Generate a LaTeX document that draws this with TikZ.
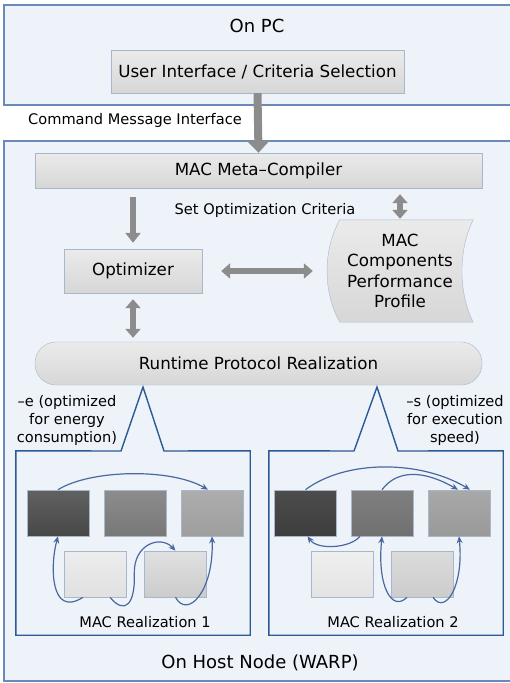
\documentclass[tikz,border=0pt]{standalone}
\usepackage{fontspec}
\setmainfont{DejaVu Sans}
\usetikzlibrary{arrows.meta,positioning,calc}
\definecolor{fondo}{HTML}{EEF3F9}
\definecolor{marco}{HTML}{6A8BB8}
\definecolor{azul}{HTML}{2D5A96}
\definecolor{flecha}{HTML}{4A68A0}
\definecolor{gris}{HTML}{8C8C8C}
\definecolor{grisf}{HTML}{E2E2E2}
\definecolor{borde}{HTML}{A8B8CC}

\tikzset{
  zona/.style={draw=marco,fill=fondo,line width=1.2pt,inner sep=0pt},
  caja/.style={draw=borde,top color=grisf!70!white,bottom color=grisf!95!black,
               font=\fontsize{16.7}{20}\selectfont,inner sep=0pt},
  bloque/.style={draw=borde,line width=0.6pt,inner sep=0pt,minimum width=62pt,minimum height=46pt},
  gflecha/.style={draw=gris,line width=6pt,-{Triangle[width=15pt,length=10pt]}},
  gdoble/.style={draw=gris,line width=6pt,{Triangle[width=15pt,length=9pt]}-{Triangle[width=15pt,length=9pt]}},
  bflecha/.style={draw=flecha,line width=1.2pt,-{Stealth[length=7pt,width=6pt]}},
  chica/.style={font=\fontsize{14.6}{18}\selectfont},
  titulo/.style={font=\fontsize{18}{22}\selectfont}
}

\begin{document}
\begin{tikzpicture}[x=1pt,y=-1pt]
  \useasboundingbox[fill=white] (0,0) rectangle (509,683);

  % the two hosts
  \node[zona,minimum width=508pt,minimum height=100pt] (pc) at (258,55) {};
  \node[zona,minimum width=508pt,minimum height=540pt] (host) at (258,411) {};
  \node[titulo] (pctxt) at (257,26) {On PC};
  \node[titulo] (hosttxt) at (260,663) {On Host Node (WARP)};

  % PC side
  \node[caja,minimum width=293pt,minimum height=43pt] (ui) at (257.5,71.5) {User Interface / Criteria Selection};
  \node[chica] (cmd) at (135,120) {Command Message Interface};

  % meta-compiler and friends
  \node[caja,minimum width=447pt,minimum height=35pt] (meta) at (258.5,170.5) {MAC Meta--Compiler};
  \node[chica] (crit) at (265,210) {Set Optimization Criteria};
  \node[caja,minimum width=138pt,minimum height=44pt] (opt) at (133,271) {Optimizer};
  \node[minimum width=146pt,minimum height=102pt,inner sep=0pt] (prof) at (400,271) {};
  \draw[draw=borde,top color=grisf!70!white,bottom color=grisf!95!black]
    ([xshift=13pt]prof.north west) -- (prof.north east)
    .. controls ([xshift=-15pt,yshift=-30pt]prof.north east) and ([xshift=-15pt,yshift=30pt]prof.south east) .. (prof.south east)
    -- ([xshift=13pt]prof.south west)
    .. controls ([xshift=-4pt,yshift=30pt]prof.south west) and ([xshift=-4pt,yshift=-30pt]prof.north west) .. ([xshift=13pt]prof.north west) -- cycle;
  \node[align=center,font=\fontsize{16.7}{20.5}\selectfont] (proftxt) at (prof) {MAC\\Components\\Performance\\Profile};
  \node[caja,minimum width=447pt,minimum height=43pt,rounded corners=21pt] (run) at (258.5,363.5) {Runtime Protocol Realization};

  % gray arrows
  \draw[gflecha,line width=8pt,-{Triangle[width=22pt,length=12pt]}] (ui.south) -- (meta.north);
  \draw[gflecha] ([yshift=-9pt]meta.south -| opt) -- ([yshift=6pt]opt.north);
  \draw[gdoble] ([yshift=-6pt]meta.south -| prof) -- ([yshift=1pt]prof.north);
  \draw[gdoble] ([xshift=19pt]opt.east) -- ([xshift=-14pt]prof.west);
  \draw[gdoble] ([yshift=-6pt]opt.south) -- ([yshift=4pt]run.north -| opt);

  % callouts
  \coordinate (tip1) at (143,387);
  \coordinate (tip2) at (377,387);
  \node[minimum width=234pt,minimum height=184pt] (real1) at (133,543) {};
  \node[minimum width=234pt,minimum height=184pt] (real2) at (386,543) {};
  \draw[azul,fill=fondo,line width=1.4pt] (real1.north west) -- (121,451) -- (tip1) -- (164,451)
    -- (real1.north east) -- (real1.south east) -- (real1.south west) -- cycle;
  \draw[azul,fill=fondo,line width=1.4pt] (real2.north west) -- (354,451) -- (tip2) -- (398,451)
    -- (real2.north east) -- (real2.south east) -- (real2.south west) -- cycle;
  \node[chica,align=center] (etxt) at (67,420) {--e (optimized\\for energy\\consumption)};
  \node[chica,align=center] (stxt) at (455,420) {--s (optimized\\for execution\\speed)};

  % realization 1
  \node[bloque,top color=black!62,bottom color=black!72] (l1) at (58,513) {};
  \node[bloque,top color=black!45,bottom color=black!53] (l2) at (135.5,513) {};
  \node[bloque,top color=black!32,bottom color=black!38] (l3) at (212,513) {};
  \node[bloque,top color=black!7,bottom color=black!12] (l4) at (95,574) {};
  \node[bloque,top color=black!12,bottom color=black!20] (l5) at (175.5,574) {};
  \node[chica] (r1txt) at (145,622) {MAC Realization 1};
  \draw[bflecha] (l1.north) .. controls +(32,-20) and +(-38,-22) .. ([xshift=-4pt]l3.north);
  \draw[bflecha] ([xshift=-12pt]l4.south) .. controls +(-33,21) and +(-8,29) .. (l1.south);
  \draw[bflecha] ([xshift=15pt]l4.south) .. controls +(15,18) and +(1,30) .. ([xshift=8pt]l4.east)
    .. controls +(-1,-30) and +(-15,-16) .. (l5.north);
  \draw[bflecha] (l5.south) .. controls +(12,22) and +(2,55) .. (l3.south);

  % realization 2
  \node[bloque,top color=black!70,bottom color=black!76] (r1) at (305.5,513) {};
  \node[bloque,top color=black!50,bottom color=black!56] (r2) at (382,513) {};
  \node[bloque,top color=black!34,bottom color=black!40] (r3) at (459,513) {};
  \node[bloque,top color=black!6,bottom color=black!11] (r4) at (342,574) {};
  \node[bloque,top color=black!14,bottom color=black!20] (r5) at (422,574) {};
  \node[chica] (r2txt) at (393,622) {MAC Realization 2};
  \draw[bflecha] (r1.north) .. controls +(40,-30) and +(-50,-30) .. ([xshift=11pt]r3.north);
  \draw[bflecha] (r2.north) .. controls +(15,-20) and +(-35,-20) .. ([xshift=-1pt]r3.north);
  \draw[bflecha] ([xshift=-22pt]r2.south) .. controls +(-10,12) and +(10,14) .. ([xshift=2pt]r1.south);
  \draw[bflecha] ([xshift=-15pt]r5.south) .. controls +(-15,15) and +(-5,50) .. (r2.south);
  \draw[bflecha] ([xshift=11pt]r5.south) .. controls +(12,18) and +(5,50) .. (r3.south);
\end{tikzpicture}
\end{document}
